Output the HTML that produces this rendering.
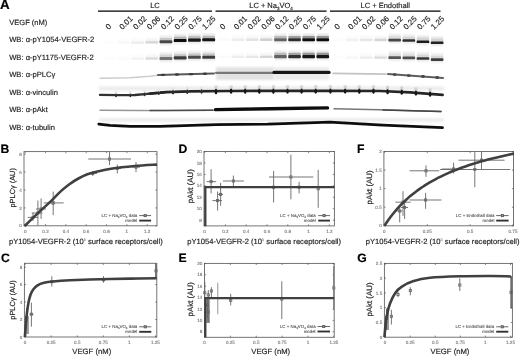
<!DOCTYPE html>
<html><head><meta charset="utf-8"><style>
html,body{margin:0;padding:0;background:#fff;}
svg{display:block;font-family:"Liberation Sans", sans-serif;text-rendering:geometricPrecision;}
</style></head><body>
<svg width="520" height="356" viewBox="0 0 520 356">
<defs><filter id="glob" filterUnits="userSpaceOnUse" x="0" y="0" width="520" height="356"><feGaussianBlur stdDeviation="0.3"/></filter></defs>
<rect width="520" height="356" fill="#fff"/>
<g filter="url(#glob)">
<text x="0.10" y="9.30" font-size="13.4" text-anchor="start" fill="#000" stroke="#000" stroke-width="0.16" font-weight="bold" >A</text>
<text x="0.50" y="152.60" font-size="12.2" text-anchor="start" fill="#000" stroke="#000" stroke-width="0.16" font-weight="bold" >B</text>
<text x="1.00" y="262.10" font-size="12.2" text-anchor="start" fill="#000" stroke="#000" stroke-width="0.16" font-weight="bold" >C</text>
<text x="178.50" y="152.80" font-size="12.2" text-anchor="start" fill="#000" stroke="#000" stroke-width="0.16" font-weight="bold" >D</text>
<text x="178.60" y="261.90" font-size="12.2" text-anchor="start" fill="#000" stroke="#000" stroke-width="0.16" font-weight="bold" >E</text>
<text x="357.00" y="152.80" font-size="12.2" text-anchor="start" fill="#000" stroke="#000" stroke-width="0.16" font-weight="bold" >F</text>
<text x="357.20" y="262.10" font-size="12.2" text-anchor="start" fill="#000" stroke="#000" stroke-width="0.16" font-weight="bold" >G</text>
<line x1="98.0" y1="11.05" x2="212.0" y2="11.05" stroke="#000" stroke-width="1.3"/>
<text x="155.00" y="8.45" font-size="7.5" text-anchor="middle" fill="#222" stroke="#222" stroke-width="0.16" font-weight="normal" >LC</text>
<line x1="215.5" y1="11.05" x2="326.6" y2="11.05" stroke="#000" stroke-width="1.3"/>
<text x="271.05" y="8.45" font-size="7.5" text-anchor="middle" fill="#222" stroke="#222" stroke-width="0.16" font-weight="normal" >LC + Na<tspan font-size="4.5" dy="1.5">3</tspan><tspan dy="-1.5">VO</tspan><tspan font-size="4.5" dy="1.5">4</tspan></text>
<line x1="330.0" y1="11.05" x2="440.5" y2="11.05" stroke="#000" stroke-width="1.3"/>
<text x="385.25" y="8.45" font-size="7.5" text-anchor="middle" fill="#222" stroke="#222" stroke-width="0.16" font-weight="normal" >LC + Endothall</text>
<text x="108.70" y="30.0" font-size="7.8" fill="#1a1a1a" stroke="#1a1a1a" stroke-width="0.15" transform="rotate(-45 108.70 30.0)">0</text>
<text x="122.50" y="30.0" font-size="7.8" fill="#1a1a1a" stroke="#1a1a1a" stroke-width="0.15" transform="rotate(-45 122.50 30.0)">0.01</text>
<text x="136.30" y="30.0" font-size="7.8" fill="#1a1a1a" stroke="#1a1a1a" stroke-width="0.15" transform="rotate(-45 136.30 30.0)">0.02</text>
<text x="150.10" y="30.0" font-size="7.8" fill="#1a1a1a" stroke="#1a1a1a" stroke-width="0.15" transform="rotate(-45 150.10 30.0)">0.06</text>
<text x="163.90" y="30.0" font-size="7.8" fill="#1a1a1a" stroke="#1a1a1a" stroke-width="0.15" transform="rotate(-45 163.90 30.0)">0.12</text>
<text x="177.70" y="30.0" font-size="7.8" fill="#1a1a1a" stroke="#1a1a1a" stroke-width="0.15" transform="rotate(-45 177.70 30.0)">0.25</text>
<text x="191.50" y="30.0" font-size="7.8" fill="#1a1a1a" stroke="#1a1a1a" stroke-width="0.15" transform="rotate(-45 191.50 30.0)">0.75</text>
<text x="205.30" y="30.0" font-size="7.8" fill="#1a1a1a" stroke="#1a1a1a" stroke-width="0.15" transform="rotate(-45 205.30 30.0)">1.25</text>
<text x="223.10" y="30.0" font-size="7.8" fill="#1a1a1a" stroke="#1a1a1a" stroke-width="0.15" transform="rotate(-45 223.10 30.0)">0</text>
<text x="236.90" y="30.0" font-size="7.8" fill="#1a1a1a" stroke="#1a1a1a" stroke-width="0.15" transform="rotate(-45 236.90 30.0)">0.01</text>
<text x="250.70" y="30.0" font-size="7.8" fill="#1a1a1a" stroke="#1a1a1a" stroke-width="0.15" transform="rotate(-45 250.70 30.0)">0.02</text>
<text x="264.50" y="30.0" font-size="7.8" fill="#1a1a1a" stroke="#1a1a1a" stroke-width="0.15" transform="rotate(-45 264.50 30.0)">0.06</text>
<text x="278.30" y="30.0" font-size="7.8" fill="#1a1a1a" stroke="#1a1a1a" stroke-width="0.15" transform="rotate(-45 278.30 30.0)">0.12</text>
<text x="292.10" y="30.0" font-size="7.8" fill="#1a1a1a" stroke="#1a1a1a" stroke-width="0.15" transform="rotate(-45 292.10 30.0)">0.25</text>
<text x="305.90" y="30.0" font-size="7.8" fill="#1a1a1a" stroke="#1a1a1a" stroke-width="0.15" transform="rotate(-45 305.90 30.0)">0.75</text>
<text x="319.70" y="30.0" font-size="7.8" fill="#1a1a1a" stroke="#1a1a1a" stroke-width="0.15" transform="rotate(-45 319.70 30.0)">1.25</text>
<text x="337.50" y="30.0" font-size="7.8" fill="#1a1a1a" stroke="#1a1a1a" stroke-width="0.15" transform="rotate(-45 337.50 30.0)">0</text>
<text x="351.30" y="30.0" font-size="7.8" fill="#1a1a1a" stroke="#1a1a1a" stroke-width="0.15" transform="rotate(-45 351.30 30.0)">0.01</text>
<text x="365.10" y="30.0" font-size="7.8" fill="#1a1a1a" stroke="#1a1a1a" stroke-width="0.15" transform="rotate(-45 365.10 30.0)">0.02</text>
<text x="378.90" y="30.0" font-size="7.8" fill="#1a1a1a" stroke="#1a1a1a" stroke-width="0.15" transform="rotate(-45 378.90 30.0)">0.06</text>
<text x="392.70" y="30.0" font-size="7.8" fill="#1a1a1a" stroke="#1a1a1a" stroke-width="0.15" transform="rotate(-45 392.70 30.0)">0.12</text>
<text x="406.50" y="30.0" font-size="7.8" fill="#1a1a1a" stroke="#1a1a1a" stroke-width="0.15" transform="rotate(-45 406.50 30.0)">0.25</text>
<text x="420.30" y="30.0" font-size="7.8" fill="#1a1a1a" stroke="#1a1a1a" stroke-width="0.15" transform="rotate(-45 420.30 30.0)">0.75</text>
<text x="434.10" y="30.0" font-size="7.8" fill="#1a1a1a" stroke="#1a1a1a" stroke-width="0.15" transform="rotate(-45 434.10 30.0)">1.25</text>
<text x="9.20" y="25.20" font-size="7.55" text-anchor="start" fill="#222" stroke="#222" stroke-width="0.16" font-weight="normal" >VEGF (nM)</text>
<text x="9.20" y="41.90" font-size="7.6" text-anchor="start" fill="#222" stroke="#222" stroke-width="0.16" font-weight="normal" >WB: α-pY1054-VEGFR-2</text>
<text x="9.20" y="59.50" font-size="7.6" text-anchor="start" fill="#222" stroke="#222" stroke-width="0.16" font-weight="normal" >WB: α-pY1175-VEGFR-2</text>
<text x="9.20" y="77.20" font-size="7.6" text-anchor="start" fill="#222" stroke="#222" stroke-width="0.16" font-weight="normal" >WB: α-pPLCγ</text>
<text x="9.20" y="95.00" font-size="7.6" text-anchor="start" fill="#222" stroke="#222" stroke-width="0.16" font-weight="normal" >WB: α-vinculin</text>
<text x="9.20" y="112.00" font-size="7.6" text-anchor="start" fill="#222" stroke="#222" stroke-width="0.16" font-weight="normal" >WB: α-pAkt</text>
<text x="9.20" y="129.50" font-size="7.6" text-anchor="start" fill="#222" stroke="#222" stroke-width="0.16" font-weight="normal" >WB: α-tubulin</text>
<defs><filter id="bl" filterUnits="userSpaceOnUse" x="0" y="0" width="520" height="356"><feGaussianBlur stdDeviation="0.55"/></filter><filter id="blb" filterUnits="userSpaceOnUse" x="0" y="0" width="520" height="356"><feGaussianBlur stdDeviation="0.75"/></filter><filter id="bl2" filterUnits="userSpaceOnUse" x="0" y="0" width="520" height="356"><feGaussianBlur stdDeviation="1.2"/></filter><linearGradient id="hzg" x1="0" y1="0" x2="0" y2="1"><stop offset="0" stop-color="#000" stop-opacity="0"/><stop offset="1" stop-color="#000" stop-opacity="1"/></linearGradient><linearGradient id="hzd" x1="0" y1="0" x2="0" y2="1"><stop offset="0" stop-color="#000" stop-opacity="1"/><stop offset="1" stop-color="#000" stop-opacity="0"/></linearGradient></defs>
<rect x="102.80" y="37.10" width="12.25" height="4.50" fill="url(#hzg)" fill-opacity="0.004" filter="url(#bl)"/>
<rect x="102.50" y="41.40" width="12.85" height="2.40" rx="0.9" fill="#fcfcfc" filter="url(#blb)"/>
<rect x="117.05" y="37.10" width="12.25" height="4.50" fill="url(#hzg)" fill-opacity="0.010" filter="url(#bl)"/>
<rect x="116.75" y="41.40" width="12.85" height="2.40" rx="0.9" fill="#f8f8f8" filter="url(#blb)"/>
<rect x="131.30" y="37.10" width="12.25" height="4.50" fill="url(#hzg)" fill-opacity="0.026" filter="url(#bl)"/>
<rect x="131.00" y="41.40" width="12.85" height="2.40" rx="0.9" fill="#ececec" filter="url(#blb)"/>
<rect x="145.55" y="36.90" width="12.25" height="4.50" fill="url(#hzg)" fill-opacity="0.062" filter="url(#bl)"/>
<rect x="145.25" y="41.20" width="12.85" height="2.40" rx="0.9" fill="#d4d4d4" filter="url(#blb)"/>
<rect x="159.80" y="34.20" width="12.25" height="5.50" fill="url(#hzg)" fill-opacity="0.150" filter="url(#bl)"/>
<rect x="159.80" y="42.75" width="12.25" height="4" fill="url(#hzd)" fill-opacity="0.100" filter="url(#bl)"/>
<rect x="159.70" y="37.95" width="12.45" height="2.6" rx="0.6" fill="#c7c7c7" filter="url(#blb)"/>
<rect x="159.50" y="40.15" width="12.85" height="3.10" rx="0.9" fill="#464646" filter="url(#blb)"/>
<rect x="174.05" y="33.00" width="12.25" height="5.50" fill="url(#hzg)" fill-opacity="0.200" filter="url(#bl)"/>
<rect x="174.05" y="41.55" width="12.25" height="4" fill="url(#hzd)" fill-opacity="0.100" filter="url(#bl)"/>
<rect x="173.95" y="36.75" width="12.45" height="2.6" rx="0.6" fill="#b6b6b6" filter="url(#blb)"/>
<rect x="173.75" y="38.95" width="12.85" height="3.10" rx="0.9" fill="#0c0c0c" filter="url(#blb)"/>
<rect x="188.30" y="32.60" width="12.25" height="5.50" fill="url(#hzg)" fill-opacity="0.200" filter="url(#bl)"/>
<rect x="188.30" y="41.15" width="12.25" height="4" fill="url(#hzd)" fill-opacity="0.100" filter="url(#bl)"/>
<rect x="188.20" y="36.35" width="12.45" height="2.6" rx="0.6" fill="#bababa" filter="url(#blb)"/>
<rect x="188.00" y="38.55" width="12.85" height="3.10" rx="0.9" fill="#1c1c1c" filter="url(#blb)"/>
<rect x="202.55" y="32.30" width="12.25" height="5.50" fill="url(#hzg)" fill-opacity="0.200" filter="url(#bl)"/>
<rect x="202.55" y="40.85" width="12.25" height="4" fill="url(#hzd)" fill-opacity="0.100" filter="url(#bl)"/>
<rect x="202.45" y="36.05" width="12.45" height="2.6" rx="0.6" fill="#b8b8b8" filter="url(#blb)"/>
<rect x="202.25" y="38.25" width="12.85" height="3.10" rx="0.9" fill="#141414" filter="url(#blb)"/>
<rect x="218.00" y="34.20" width="12.10" height="4.50" fill="url(#hzg)" fill-opacity="0.007" filter="url(#bl)"/>
<rect x="217.70" y="38.50" width="12.70" height="2.40" rx="0.9" fill="#fafafa" filter="url(#blb)"/>
<rect x="232.10" y="34.20" width="12.10" height="4.50" fill="url(#hzg)" fill-opacity="0.026" filter="url(#bl)"/>
<rect x="231.80" y="38.50" width="12.70" height="2.40" rx="0.9" fill="#ececec" filter="url(#blb)"/>
<rect x="246.20" y="34.20" width="12.10" height="4.50" fill="url(#hzg)" fill-opacity="0.040" filter="url(#bl)"/>
<rect x="245.90" y="38.50" width="12.70" height="2.40" rx="0.9" fill="#e3e3e3" filter="url(#blb)"/>
<rect x="260.30" y="34.20" width="12.10" height="4.50" fill="url(#hzg)" fill-opacity="0.069" filter="url(#bl)"/>
<rect x="260.00" y="38.50" width="12.70" height="2.40" rx="0.9" fill="#cfcfcf" filter="url(#blb)"/>
<rect x="274.40" y="32.20" width="12.10" height="5.50" fill="url(#hzg)" fill-opacity="0.150" filter="url(#bl)"/>
<rect x="274.40" y="40.75" width="12.10" height="4" fill="url(#hzd)" fill-opacity="0.100" filter="url(#bl)"/>
<rect x="274.30" y="35.95" width="12.30" height="2.6" rx="0.6" fill="#b9b9b9" filter="url(#blb)"/>
<rect x="274.10" y="38.15" width="12.70" height="3.10" rx="0.9" fill="#646464" filter="url(#blb)"/>
<rect x="288.50" y="32.20" width="12.10" height="5.50" fill="url(#hzg)" fill-opacity="0.150" filter="url(#bl)"/>
<rect x="288.50" y="40.75" width="12.10" height="4" fill="url(#hzd)" fill-opacity="0.100" filter="url(#bl)"/>
<rect x="288.40" y="35.95" width="12.30" height="2.6" rx="0.6" fill="#a0a0a0" filter="url(#blb)"/>
<rect x="288.20" y="38.15" width="12.70" height="3.10" rx="0.9" fill="#2d2d2d" filter="url(#blb)"/>
<rect x="302.60" y="32.20" width="12.10" height="5.50" fill="url(#hzg)" fill-opacity="0.200" filter="url(#bl)"/>
<rect x="302.60" y="40.75" width="12.10" height="4" fill="url(#hzd)" fill-opacity="0.100" filter="url(#bl)"/>
<rect x="302.50" y="35.95" width="12.30" height="2.6" rx="0.6" fill="#929292" filter="url(#blb)"/>
<rect x="302.30" y="38.15" width="12.70" height="3.10" rx="0.9" fill="#0e0e0e" filter="url(#blb)"/>
<rect x="316.70" y="32.20" width="12.10" height="5.50" fill="url(#hzg)" fill-opacity="0.200" filter="url(#bl)"/>
<rect x="316.70" y="40.75" width="12.10" height="4" fill="url(#hzd)" fill-opacity="0.100" filter="url(#bl)"/>
<rect x="316.60" y="35.95" width="12.30" height="2.6" rx="0.6" fill="#939393" filter="url(#blb)"/>
<rect x="316.40" y="38.15" width="12.70" height="3.10" rx="0.9" fill="#101010" filter="url(#blb)"/>
<rect x="332.00" y="34.50" width="12.15" height="4.50" fill="url(#hzg)" fill-opacity="0.004" filter="url(#bl)"/>
<rect x="331.70" y="38.80" width="12.75" height="2.40" rx="0.9" fill="#fcfcfc" filter="url(#blb)"/>
<rect x="346.15" y="34.50" width="12.15" height="4.50" fill="url(#hzg)" fill-opacity="0.018" filter="url(#bl)"/>
<rect x="345.85" y="38.80" width="12.75" height="2.40" rx="0.9" fill="#f2f2f2" filter="url(#blb)"/>
<rect x="360.30" y="34.50" width="12.15" height="4.50" fill="url(#hzg)" fill-opacity="0.034" filter="url(#bl)"/>
<rect x="360.00" y="38.80" width="12.75" height="2.40" rx="0.9" fill="#e7e7e7" filter="url(#blb)"/>
<rect x="374.45" y="34.50" width="12.15" height="4.50" fill="url(#hzg)" fill-opacity="0.059" filter="url(#bl)"/>
<rect x="374.15" y="38.80" width="12.75" height="2.40" rx="0.9" fill="#d6d6d6" filter="url(#blb)"/>
<rect x="388.60" y="32.60" width="12.15" height="5.50" fill="url(#hzg)" fill-opacity="0.150" filter="url(#bl)"/>
<rect x="388.60" y="40.90" width="12.15" height="4" fill="url(#hzd)" fill-opacity="0.100" filter="url(#bl)"/>
<rect x="388.50" y="36.60" width="12.35" height="2.6" rx="0.6" fill="#dadada" filter="url(#blb)"/>
<rect x="388.30" y="38.80" width="12.75" height="2.60" rx="0.9" fill="#464646" filter="url(#blb)"/>
<rect x="402.75" y="33.00" width="12.15" height="5.50" fill="url(#hzg)" fill-opacity="0.150" filter="url(#bl)"/>
<rect x="402.75" y="41.30" width="12.15" height="4" fill="url(#hzd)" fill-opacity="0.100" filter="url(#bl)"/>
<rect x="402.65" y="37.00" width="12.35" height="2.6" rx="0.6" fill="#d5d5d5" filter="url(#blb)"/>
<rect x="402.45" y="39.20" width="12.75" height="2.60" rx="0.9" fill="#2d2d2d" filter="url(#blb)"/>
<rect x="416.90" y="34.30" width="12.15" height="5.50" fill="url(#hzg)" fill-opacity="0.200" filter="url(#bl)"/>
<rect x="416.90" y="42.60" width="12.15" height="4" fill="url(#hzd)" fill-opacity="0.100" filter="url(#bl)"/>
<rect x="416.80" y="38.30" width="12.35" height="2.6" rx="0.6" fill="#d2d2d2" filter="url(#blb)"/>
<rect x="416.60" y="40.50" width="12.75" height="2.60" rx="0.9" fill="#1e1e1e" filter="url(#blb)"/>
<rect x="431.05" y="35.30" width="12.15" height="5.50" fill="url(#hzg)" fill-opacity="0.200" filter="url(#bl)"/>
<rect x="431.05" y="43.60" width="12.15" height="4" fill="url(#hzd)" fill-opacity="0.100" filter="url(#bl)"/>
<rect x="430.95" y="39.30" width="12.35" height="2.6" rx="0.6" fill="#d2d2d2" filter="url(#blb)"/>
<rect x="430.75" y="41.50" width="12.75" height="2.60" rx="0.9" fill="#202020" filter="url(#blb)"/>
<rect x="102.80" y="53.10" width="12.25" height="4.50" fill="url(#hzg)" fill-opacity="0.004" filter="url(#bl)"/>
<rect x="102.50" y="57.40" width="12.85" height="2.40" rx="0.9" fill="#fcfcfc" filter="url(#blb)"/>
<rect x="117.05" y="53.10" width="12.25" height="4.50" fill="url(#hzg)" fill-opacity="0.007" filter="url(#bl)"/>
<rect x="116.75" y="57.40" width="12.85" height="2.40" rx="0.9" fill="#fafafa" filter="url(#blb)"/>
<rect x="131.30" y="53.10" width="12.25" height="4.50" fill="url(#hzg)" fill-opacity="0.018" filter="url(#bl)"/>
<rect x="131.00" y="57.40" width="12.85" height="2.40" rx="0.9" fill="#f2f2f2" filter="url(#blb)"/>
<rect x="145.55" y="53.00" width="12.25" height="4.50" fill="url(#hzg)" fill-opacity="0.048" filter="url(#bl)"/>
<rect x="145.25" y="57.30" width="12.85" height="2.40" rx="0.9" fill="#dddddd" filter="url(#blb)"/>
<rect x="159.80" y="51.00" width="12.25" height="5.50" fill="url(#hzg)" fill-opacity="0.150" filter="url(#bl)"/>
<rect x="159.80" y="59.55" width="12.25" height="4" fill="url(#hzd)" fill-opacity="0.100" filter="url(#bl)"/>
<rect x="159.70" y="54.75" width="12.45" height="2.6" rx="0.6" fill="#d5d5d5" filter="url(#blb)"/>
<rect x="159.50" y="56.95" width="12.85" height="3.10" rx="0.9" fill="#737373" filter="url(#blb)"/>
<rect x="174.05" y="50.40" width="12.25" height="5.50" fill="url(#hzg)" fill-opacity="0.150" filter="url(#bl)"/>
<rect x="174.05" y="58.95" width="12.25" height="4" fill="url(#hzd)" fill-opacity="0.100" filter="url(#bl)"/>
<rect x="173.95" y="54.15" width="12.45" height="2.6" rx="0.6" fill="#c5c5c5" filter="url(#blb)"/>
<rect x="173.75" y="56.35" width="12.85" height="3.10" rx="0.9" fill="#3e3e3e" filter="url(#blb)"/>
<rect x="188.30" y="49.80" width="12.25" height="5.50" fill="url(#hzg)" fill-opacity="0.150" filter="url(#bl)"/>
<rect x="188.30" y="58.35" width="12.25" height="4" fill="url(#hzd)" fill-opacity="0.100" filter="url(#bl)"/>
<rect x="188.20" y="53.55" width="12.45" height="2.6" rx="0.6" fill="#c9c9c9" filter="url(#blb)"/>
<rect x="188.00" y="55.75" width="12.85" height="3.10" rx="0.9" fill="#4e4e4e" filter="url(#blb)"/>
<rect x="202.55" y="49.80" width="12.25" height="5.50" fill="url(#hzg)" fill-opacity="0.150" filter="url(#bl)"/>
<rect x="202.55" y="58.35" width="12.25" height="4" fill="url(#hzd)" fill-opacity="0.100" filter="url(#bl)"/>
<rect x="202.45" y="53.55" width="12.45" height="2.6" rx="0.6" fill="#c4c4c4" filter="url(#blb)"/>
<rect x="202.25" y="55.75" width="12.85" height="3.10" rx="0.9" fill="#3c3c3c" filter="url(#blb)"/>
<rect x="218.00" y="51.40" width="12.10" height="4.50" fill="url(#hzg)" fill-opacity="0.007" filter="url(#bl)"/>
<rect x="217.70" y="55.70" width="12.70" height="2.40" rx="0.9" fill="#fafafa" filter="url(#blb)"/>
<rect x="232.10" y="51.40" width="12.10" height="4.50" fill="url(#hzg)" fill-opacity="0.023" filter="url(#bl)"/>
<rect x="231.80" y="55.70" width="12.70" height="2.40" rx="0.9" fill="#eeeeee" filter="url(#blb)"/>
<rect x="246.20" y="51.40" width="12.10" height="4.50" fill="url(#hzg)" fill-opacity="0.034" filter="url(#bl)"/>
<rect x="245.90" y="55.70" width="12.70" height="2.40" rx="0.9" fill="#e7e7e7" filter="url(#blb)"/>
<rect x="260.30" y="51.40" width="12.10" height="4.50" fill="url(#hzg)" fill-opacity="0.059" filter="url(#bl)"/>
<rect x="260.00" y="55.70" width="12.70" height="2.40" rx="0.9" fill="#d6d6d6" filter="url(#blb)"/>
<rect x="274.40" y="49.10" width="12.10" height="5.50" fill="url(#hzg)" fill-opacity="0.150" filter="url(#bl)"/>
<rect x="274.40" y="57.65" width="12.10" height="4" fill="url(#hzd)" fill-opacity="0.100" filter="url(#bl)"/>
<rect x="274.30" y="52.85" width="12.30" height="2.6" rx="0.6" fill="#b9b9b9" filter="url(#blb)"/>
<rect x="274.10" y="55.05" width="12.70" height="3.10" rx="0.9" fill="#646464" filter="url(#blb)"/>
<rect x="288.50" y="49.10" width="12.10" height="5.50" fill="url(#hzg)" fill-opacity="0.150" filter="url(#bl)"/>
<rect x="288.50" y="57.65" width="12.10" height="4" fill="url(#hzd)" fill-opacity="0.100" filter="url(#bl)"/>
<rect x="288.40" y="52.85" width="12.30" height="2.6" rx="0.6" fill="#a2a2a2" filter="url(#blb)"/>
<rect x="288.20" y="55.05" width="12.70" height="3.10" rx="0.9" fill="#323232" filter="url(#blb)"/>
<rect x="302.60" y="49.10" width="12.10" height="5.50" fill="url(#hzg)" fill-opacity="0.200" filter="url(#bl)"/>
<rect x="302.60" y="57.65" width="12.10" height="4" fill="url(#hzd)" fill-opacity="0.100" filter="url(#bl)"/>
<rect x="302.50" y="52.85" width="12.30" height="2.6" rx="0.6" fill="#969696" filter="url(#blb)"/>
<rect x="302.30" y="55.05" width="12.70" height="3.10" rx="0.9" fill="#161616" filter="url(#blb)"/>
<rect x="316.70" y="49.10" width="12.10" height="5.50" fill="url(#hzg)" fill-opacity="0.200" filter="url(#bl)"/>
<rect x="316.70" y="57.65" width="12.10" height="4" fill="url(#hzd)" fill-opacity="0.100" filter="url(#bl)"/>
<rect x="316.60" y="52.85" width="12.30" height="2.6" rx="0.6" fill="#969696" filter="url(#blb)"/>
<rect x="316.40" y="55.05" width="12.70" height="3.10" rx="0.9" fill="#161616" filter="url(#blb)"/>
<rect x="332.00" y="52.10" width="12.15" height="4.50" fill="url(#hzg)" fill-opacity="0.004" filter="url(#bl)"/>
<rect x="331.70" y="56.40" width="12.75" height="2.40" rx="0.9" fill="#fcfcfc" filter="url(#blb)"/>
<rect x="346.15" y="52.10" width="12.15" height="4.50" fill="url(#hzg)" fill-opacity="0.012" filter="url(#bl)"/>
<rect x="345.85" y="56.40" width="12.75" height="2.40" rx="0.9" fill="#f6f6f6" filter="url(#blb)"/>
<rect x="360.30" y="52.10" width="12.15" height="4.50" fill="url(#hzg)" fill-opacity="0.027" filter="url(#bl)"/>
<rect x="360.00" y="56.40" width="12.75" height="2.40" rx="0.9" fill="#ececec" filter="url(#blb)"/>
<rect x="374.45" y="52.10" width="12.15" height="4.50" fill="url(#hzg)" fill-opacity="0.051" filter="url(#bl)"/>
<rect x="374.15" y="56.40" width="12.75" height="2.40" rx="0.9" fill="#dbdbdb" filter="url(#blb)"/>
<rect x="388.60" y="50.10" width="12.15" height="5.50" fill="url(#hzg)" fill-opacity="0.150" filter="url(#bl)"/>
<rect x="388.60" y="58.40" width="12.15" height="4" fill="url(#hzd)" fill-opacity="0.100" filter="url(#bl)"/>
<rect x="388.50" y="54.10" width="12.35" height="2.6" rx="0.6" fill="#dddddd" filter="url(#blb)"/>
<rect x="388.30" y="56.30" width="12.75" height="2.60" rx="0.9" fill="#555555" filter="url(#blb)"/>
<rect x="402.75" y="50.40" width="12.15" height="5.50" fill="url(#hzg)" fill-opacity="0.150" filter="url(#bl)"/>
<rect x="402.75" y="58.70" width="12.15" height="4" fill="url(#hzd)" fill-opacity="0.100" filter="url(#bl)"/>
<rect x="402.65" y="54.40" width="12.35" height="2.6" rx="0.6" fill="#dcdcdc" filter="url(#blb)"/>
<rect x="402.45" y="56.60" width="12.75" height="2.60" rx="0.9" fill="#505050" filter="url(#blb)"/>
<rect x="416.90" y="51.00" width="12.15" height="5.50" fill="url(#hzg)" fill-opacity="0.150" filter="url(#bl)"/>
<rect x="416.90" y="59.30" width="12.15" height="4" fill="url(#hzd)" fill-opacity="0.100" filter="url(#bl)"/>
<rect x="416.80" y="55.00" width="12.35" height="2.6" rx="0.6" fill="#d7d7d7" filter="url(#blb)"/>
<rect x="416.60" y="57.20" width="12.75" height="2.60" rx="0.9" fill="#373737" filter="url(#blb)"/>
<rect x="431.05" y="52.10" width="12.15" height="5.50" fill="url(#hzg)" fill-opacity="0.150" filter="url(#bl)"/>
<rect x="431.05" y="60.40" width="12.15" height="4" fill="url(#hzd)" fill-opacity="0.100" filter="url(#bl)"/>
<rect x="430.95" y="56.10" width="12.35" height="2.6" rx="0.6" fill="#d8d8d8" filter="url(#blb)"/>
<rect x="430.75" y="58.30" width="12.75" height="2.60" rx="0.9" fill="#3e3e3e" filter="url(#blb)"/>
<rect x="216" y="67" width="58" height="13" fill="#e2e2e2" filter="url(#bl2)"/>
<rect x="274" y="67" width="55" height="13" fill="#ececec" filter="url(#bl2)"/>
<path d="M100.00,78.20 L130.00,77.80 L150.00,76.20 L160.00,75.00" fill="none" stroke="#cdcdcd" stroke-width="1.6" stroke-linecap="round" stroke-linejoin="round" filter="url(#bl)" />
<path d="M158.00,75.00 L185.00,74.20 L214.00,73.40" fill="none" stroke="#5a5a5a" stroke-width="2.0" stroke-linecap="round" stroke-linejoin="round" filter="url(#bl)" />
<ellipse cx="163" cy="74.92" rx="2.2" ry="1.2" fill="#3c3c3c" filter="url(#bl)"/>
<ellipse cx="177" cy="74.52" rx="2.2" ry="1.2" fill="#3c3c3c" filter="url(#bl)"/>
<ellipse cx="191" cy="74.13" rx="2.2" ry="1.2" fill="#3c3c3c" filter="url(#bl)"/>
<ellipse cx="205" cy="73.74" rx="2.2" ry="1.2" fill="#3c3c3c" filter="url(#bl)"/>
<path d="M216.00,72.80 L273.00,72.80" fill="none" stroke="#787878" stroke-width="2.2" stroke-linecap="round" stroke-linejoin="round" filter="url(#bl)" />
<path d="M274.00,72.40 L329.00,72.40" fill="none" stroke="#191919" stroke-width="3.3" stroke-linecap="round" stroke-linejoin="round" filter="url(#bl)" />
<path d="M333.00,73.40 L386.00,74.10" fill="none" stroke="#c3c3c3" stroke-width="1.6" stroke-linecap="round" stroke-linejoin="round" filter="url(#bl)" />
<path d="M388.00,74.10 L443.00,77.90" fill="none" stroke="#5f5f5f" stroke-width="2.0" stroke-linecap="round" stroke-linejoin="round" filter="url(#bl)" />
<ellipse cx="394.70" cy="74.56" rx="2.0" ry="1.4" fill="#464646" filter="url(#bl)"/>
<ellipse cx="408.80" cy="75.54" rx="2.0" ry="1.4" fill="#464646" filter="url(#bl)"/>
<ellipse cx="423.00" cy="76.52" rx="2.0" ry="1.4" fill="#464646" filter="url(#bl)"/>
<ellipse cx="437.10" cy="77.49" rx="2.0" ry="1.4" fill="#464646" filter="url(#bl)"/>
<rect x="99" y="86.5" width="345" height="4" fill="#ececec" filter="url(#bl2)"/>
<path d="M100.00,94.90 L120.00,95.20 L135.00,95.00 L150.00,93.60 L166.00,92.20" fill="none" stroke="#323232" stroke-width="2.3" stroke-linecap="round" stroke-linejoin="round" filter="url(#bl)" />
<path d="M150.00,93.60 L166.00,92.20 L190.00,91.40 L230.00,91.00 L260.00,90.90 L330.00,90.80 L380.00,91.00 L410.00,92.40 L442.60,94.80" fill="none" stroke="#282828" stroke-width="2.7" stroke-linecap="round" stroke-linejoin="round" filter="url(#bl)" />
<rect x="115.00" y="91.29" width="2.10" height="3.15" fill="#e4e4e4" filter="url(#blb)"/>
<ellipse cx="116.05" cy="95.44" rx="0.98" ry="1.89" fill="#2d2d2d" filter="url(#bl)"/>
<rect x="129.25" y="91.21" width="2.10" height="3.15" fill="#e4e4e4" filter="url(#blb)"/>
<ellipse cx="130.30" cy="95.36" rx="0.98" ry="1.89" fill="#2d2d2d" filter="url(#bl)"/>
<rect x="143.50" y="90.26" width="2.10" height="3.15" fill="#e4e4e4" filter="url(#blb)"/>
<ellipse cx="144.55" cy="94.41" rx="0.98" ry="1.89" fill="#2d2d2d" filter="url(#bl)"/>
<rect x="157.75" y="88.98" width="2.10" height="3.15" fill="#e4e4e4" filter="url(#blb)"/>
<ellipse cx="158.80" cy="93.13" rx="0.98" ry="1.89" fill="#2d2d2d" filter="url(#bl)"/>
<rect x="171.78" y="87.29" width="2.55" height="3.82" fill="#e4e4e4" filter="url(#blb)"/>
<ellipse cx="173.05" cy="92.27" rx="1.19" ry="2.29" fill="#2d2d2d" filter="url(#bl)"/>
<rect x="186.03" y="86.82" width="2.55" height="3.82" fill="#e4e4e4" filter="url(#blb)"/>
<ellipse cx="187.30" cy="91.79" rx="1.19" ry="2.29" fill="#2d2d2d" filter="url(#bl)"/>
<rect x="200.28" y="86.61" width="2.55" height="3.82" fill="#e4e4e4" filter="url(#blb)"/>
<ellipse cx="201.55" cy="91.58" rx="1.19" ry="2.29" fill="#2d2d2d" filter="url(#bl)"/>
<rect x="214.50" y="85.64" width="3.00" height="4.50" fill="#d2d2d2" filter="url(#blb)"/>
<ellipse cx="216.00" cy="91.44" rx="1.40" ry="2.70" fill="#191919" filter="url(#bl)"/>
<rect x="229.60" y="85.50" width="3.00" height="4.50" fill="#d2d2d2" filter="url(#blb)"/>
<ellipse cx="231.10" cy="91.30" rx="1.40" ry="2.70" fill="#191919" filter="url(#bl)"/>
<rect x="243.70" y="85.45" width="3.00" height="4.50" fill="#d2d2d2" filter="url(#blb)"/>
<ellipse cx="245.20" cy="91.25" rx="1.40" ry="2.70" fill="#191919" filter="url(#bl)"/>
<rect x="257.80" y="85.40" width="3.00" height="4.50" fill="#d2d2d2" filter="url(#blb)"/>
<ellipse cx="259.30" cy="91.20" rx="1.40" ry="2.70" fill="#191919" filter="url(#bl)"/>
<rect x="271.90" y="85.38" width="3.00" height="4.50" fill="#d2d2d2" filter="url(#blb)"/>
<ellipse cx="273.40" cy="91.18" rx="1.40" ry="2.70" fill="#191919" filter="url(#bl)"/>
<rect x="286.00" y="85.36" width="3.00" height="4.50" fill="#d2d2d2" filter="url(#blb)"/>
<ellipse cx="287.50" cy="91.16" rx="1.40" ry="2.70" fill="#191919" filter="url(#bl)"/>
<rect x="300.10" y="85.34" width="3.00" height="4.50" fill="#d2d2d2" filter="url(#blb)"/>
<ellipse cx="301.60" cy="91.14" rx="1.40" ry="2.70" fill="#191919" filter="url(#bl)"/>
<rect x="314.20" y="85.32" width="3.00" height="4.50" fill="#d2d2d2" filter="url(#blb)"/>
<ellipse cx="315.70" cy="91.12" rx="1.40" ry="2.70" fill="#191919" filter="url(#bl)"/>
<rect x="328.90" y="85.30" width="3.00" height="4.50" fill="#d2d2d2" filter="url(#blb)"/>
<ellipse cx="330.40" cy="91.10" rx="1.40" ry="2.70" fill="#191919" filter="url(#bl)"/>
<rect x="343.65" y="85.36" width="3.00" height="4.50" fill="#d2d2d2" filter="url(#blb)"/>
<ellipse cx="345.15" cy="91.16" rx="1.40" ry="2.70" fill="#191919" filter="url(#bl)"/>
<rect x="357.80" y="85.42" width="3.00" height="4.50" fill="#d2d2d2" filter="url(#blb)"/>
<ellipse cx="359.30" cy="91.22" rx="1.40" ry="2.70" fill="#191919" filter="url(#bl)"/>
<rect x="371.95" y="85.47" width="3.00" height="4.50" fill="#d2d2d2" filter="url(#blb)"/>
<ellipse cx="373.45" cy="91.27" rx="1.40" ry="2.70" fill="#191919" filter="url(#bl)"/>
<rect x="386.10" y="85.85" width="3.00" height="4.50" fill="#d2d2d2" filter="url(#blb)"/>
<ellipse cx="387.60" cy="91.65" rx="1.40" ry="2.70" fill="#191919" filter="url(#bl)"/>
<rect x="400.25" y="86.52" width="3.00" height="4.50" fill="#d2d2d2" filter="url(#blb)"/>
<ellipse cx="401.75" cy="92.31" rx="1.40" ry="2.70" fill="#191919" filter="url(#bl)"/>
<rect x="414.40" y="87.33" width="3.00" height="4.50" fill="#d2d2d2" filter="url(#blb)"/>
<ellipse cx="415.90" cy="93.13" rx="1.40" ry="2.70" fill="#191919" filter="url(#bl)"/>
<rect x="428.55" y="88.38" width="3.00" height="4.50" fill="#d2d2d2" filter="url(#blb)"/>
<ellipse cx="430.05" cy="94.18" rx="1.40" ry="2.70" fill="#191919" filter="url(#bl)"/>
<path d="M100.00,110.30 L140.00,110.50 L166.00,110.60 L213.00,110.20" fill="none" stroke="#969696" stroke-width="1.4" stroke-linecap="round" stroke-linejoin="round" filter="url(#bl)" />
<path d="M150.00,110.50 L213.00,110.20" fill="none" stroke="#4b4b4b" stroke-width="1.6" stroke-linecap="round" stroke-linejoin="round" filter="url(#bl)" />
<path d="M215.50,109.60 L270.00,108.70 L327.50,107.90" fill="none" stroke="#0c0c0c" stroke-width="3.4" stroke-linecap="round" stroke-linejoin="round" filter="url(#bl)" />
<path d="M334.00,108.80 L380.00,109.80 L441.00,111.50" fill="none" stroke="#787878" stroke-width="1.5" stroke-linecap="round" stroke-linejoin="round" filter="url(#bl)" />
<path d="M383.00,110.00 L441.00,111.50" fill="none" stroke="#464646" stroke-width="1.6" stroke-linecap="round" stroke-linejoin="round" filter="url(#bl)" />
<rect x="99" y="118" width="345" height="4" fill="#eeeeee" filter="url(#bl2)"/>
<path d="M98.80,124.20 L110.00,125.40 L130.00,126.40 L160.00,126.30 L216.00,124.70 L267.70,124.20 L330.00,122.10 L382.70,125.20 L442.50,127.60" fill="none" stroke="#0f0f0f" stroke-width="2.8" stroke-linecap="round" stroke-linejoin="round" filter="url(#bl)" />
<rect x="24.0" y="151.6" width="133.0" height="74.20000000000002" fill="none" stroke="#666" stroke-width="0.9"/>
<line x1="25.20" y1="225.8" x2="25.20" y2="224.20000000000002" stroke="#555" stroke-width="0.7"/>
<line x1="25.20" y1="151.6" x2="25.20" y2="153.2" stroke="#555" stroke-width="0.7"/>
<text x="25.20" y="232.70" font-size="4.6" text-anchor="middle" fill="#777" stroke="#777" stroke-width="0.1" font-weight="normal" >0</text>
<line x1="45.54" y1="225.8" x2="45.54" y2="224.20000000000002" stroke="#555" stroke-width="0.7"/>
<line x1="45.54" y1="151.6" x2="45.54" y2="153.2" stroke="#555" stroke-width="0.7"/>
<text x="45.54" y="232.70" font-size="4.6" text-anchor="middle" fill="#777" stroke="#777" stroke-width="0.1" font-weight="normal" >0.2</text>
<line x1="65.88" y1="225.8" x2="65.88" y2="224.20000000000002" stroke="#555" stroke-width="0.7"/>
<line x1="65.88" y1="151.6" x2="65.88" y2="153.2" stroke="#555" stroke-width="0.7"/>
<text x="65.88" y="232.70" font-size="4.6" text-anchor="middle" fill="#777" stroke="#777" stroke-width="0.1" font-weight="normal" >0.4</text>
<line x1="86.22" y1="225.8" x2="86.22" y2="224.20000000000002" stroke="#555" stroke-width="0.7"/>
<line x1="86.22" y1="151.6" x2="86.22" y2="153.2" stroke="#555" stroke-width="0.7"/>
<text x="86.22" y="232.70" font-size="4.6" text-anchor="middle" fill="#777" stroke="#777" stroke-width="0.1" font-weight="normal" >0.6</text>
<line x1="106.56" y1="225.8" x2="106.56" y2="224.20000000000002" stroke="#555" stroke-width="0.7"/>
<line x1="106.56" y1="151.6" x2="106.56" y2="153.2" stroke="#555" stroke-width="0.7"/>
<text x="106.56" y="232.70" font-size="4.6" text-anchor="middle" fill="#777" stroke="#777" stroke-width="0.1" font-weight="normal" >0.8</text>
<line x1="126.90" y1="225.8" x2="126.90" y2="224.20000000000002" stroke="#555" stroke-width="0.7"/>
<line x1="126.90" y1="151.6" x2="126.90" y2="153.2" stroke="#555" stroke-width="0.7"/>
<text x="126.90" y="232.70" font-size="4.6" text-anchor="middle" fill="#777" stroke="#777" stroke-width="0.1" font-weight="normal" >1</text>
<line x1="147.24" y1="225.8" x2="147.24" y2="224.20000000000002" stroke="#555" stroke-width="0.7"/>
<line x1="147.24" y1="151.6" x2="147.24" y2="153.2" stroke="#555" stroke-width="0.7"/>
<text x="147.24" y="232.70" font-size="4.6" text-anchor="middle" fill="#777" stroke="#777" stroke-width="0.1" font-weight="normal" >1.2</text>
<line x1="24.0" y1="225.80" x2="25.6" y2="225.80" stroke="#555" stroke-width="0.7"/>
<line x1="157.0" y1="225.80" x2="155.4" y2="225.80" stroke="#555" stroke-width="0.7"/>
<text x="21.80" y="227.40" font-size="4.6" text-anchor="end" fill="#777" stroke="#777" stroke-width="0.1" font-weight="normal" >0</text>
<line x1="24.0" y1="207.90" x2="25.6" y2="207.90" stroke="#555" stroke-width="0.7"/>
<line x1="157.0" y1="207.90" x2="155.4" y2="207.90" stroke="#555" stroke-width="0.7"/>
<text x="21.80" y="209.50" font-size="4.6" text-anchor="end" fill="#777" stroke="#777" stroke-width="0.1" font-weight="normal" >2</text>
<line x1="24.0" y1="190.00" x2="25.6" y2="190.00" stroke="#555" stroke-width="0.7"/>
<line x1="157.0" y1="190.00" x2="155.4" y2="190.00" stroke="#555" stroke-width="0.7"/>
<text x="21.80" y="191.60" font-size="4.6" text-anchor="end" fill="#777" stroke="#777" stroke-width="0.1" font-weight="normal" >4</text>
<line x1="24.0" y1="172.10" x2="25.6" y2="172.10" stroke="#555" stroke-width="0.7"/>
<line x1="157.0" y1="172.10" x2="155.4" y2="172.10" stroke="#555" stroke-width="0.7"/>
<text x="21.80" y="173.70" font-size="4.6" text-anchor="end" fill="#777" stroke="#777" stroke-width="0.1" font-weight="normal" >6</text>
<line x1="24.0" y1="154.20" x2="25.6" y2="154.20" stroke="#555" stroke-width="0.7"/>
<line x1="157.0" y1="154.20" x2="155.4" y2="154.20" stroke="#555" stroke-width="0.7"/>
<text x="21.80" y="155.80" font-size="4.6" text-anchor="end" fill="#777" stroke="#777" stroke-width="0.1" font-weight="normal" >8</text>
<text x="15.00" y="187.80" font-size="7.4" text-anchor="middle" fill="#222" stroke="#222" stroke-width="0.15" transform="rotate(-90 15.00 187.80)">pPLCγ (AU)</text>
<text x="9.00" y="244.30" font-size="7.6" text-anchor="start" fill="#222" stroke="#222" stroke-width="0.16" font-weight="normal" >pY1054-VEGFR-2 (10<tspan font-size="4.0" dy="-3" fill="#666" stroke="none">5</tspan><tspan dy="3"> surface receptors/cell)</tspan></text>
<rect x="24.4" y="263.3" width="132.4" height="73.69999999999999" fill="none" stroke="#666" stroke-width="0.9"/>
<line x1="25.10" y1="337.0" x2="25.10" y2="335.4" stroke="#555" stroke-width="0.7"/>
<line x1="25.10" y1="263.3" x2="25.10" y2="264.90000000000003" stroke="#555" stroke-width="0.7"/>
<text x="25.10" y="343.90" font-size="4.6" text-anchor="middle" fill="#777" stroke="#777" stroke-width="0.1" font-weight="normal" >0</text>
<line x1="51.17" y1="337.0" x2="51.17" y2="335.4" stroke="#555" stroke-width="0.7"/>
<line x1="51.17" y1="263.3" x2="51.17" y2="264.90000000000003" stroke="#555" stroke-width="0.7"/>
<text x="51.17" y="343.90" font-size="4.6" text-anchor="middle" fill="#777" stroke="#777" stroke-width="0.1" font-weight="normal" >0.25</text>
<line x1="77.25" y1="337.0" x2="77.25" y2="335.4" stroke="#555" stroke-width="0.7"/>
<line x1="77.25" y1="263.3" x2="77.25" y2="264.90000000000003" stroke="#555" stroke-width="0.7"/>
<text x="77.25" y="343.90" font-size="4.6" text-anchor="middle" fill="#777" stroke="#777" stroke-width="0.1" font-weight="normal" >0.5</text>
<line x1="103.32" y1="337.0" x2="103.32" y2="335.4" stroke="#555" stroke-width="0.7"/>
<line x1="103.32" y1="263.3" x2="103.32" y2="264.90000000000003" stroke="#555" stroke-width="0.7"/>
<text x="103.32" y="343.90" font-size="4.6" text-anchor="middle" fill="#777" stroke="#777" stroke-width="0.1" font-weight="normal" >0.75</text>
<line x1="129.40" y1="337.0" x2="129.40" y2="335.4" stroke="#555" stroke-width="0.7"/>
<line x1="129.40" y1="263.3" x2="129.40" y2="264.90000000000003" stroke="#555" stroke-width="0.7"/>
<text x="129.40" y="343.90" font-size="4.6" text-anchor="middle" fill="#777" stroke="#777" stroke-width="0.1" font-weight="normal" >1</text>
<line x1="155.47" y1="337.0" x2="155.47" y2="335.4" stroke="#555" stroke-width="0.7"/>
<line x1="155.47" y1="263.3" x2="155.47" y2="264.90000000000003" stroke="#555" stroke-width="0.7"/>
<text x="155.47" y="343.90" font-size="4.6" text-anchor="middle" fill="#777" stroke="#777" stroke-width="0.1" font-weight="normal" >1.25</text>
<line x1="24.4" y1="337.00" x2="26.0" y2="337.00" stroke="#555" stroke-width="0.7"/>
<line x1="156.8" y1="337.00" x2="155.20000000000002" y2="337.00" stroke="#555" stroke-width="0.7"/>
<text x="22.20" y="338.60" font-size="4.6" text-anchor="end" fill="#777" stroke="#777" stroke-width="0.1" font-weight="normal" >0</text>
<line x1="24.4" y1="319.54" x2="26.0" y2="319.54" stroke="#555" stroke-width="0.7"/>
<line x1="156.8" y1="319.54" x2="155.20000000000002" y2="319.54" stroke="#555" stroke-width="0.7"/>
<text x="22.20" y="321.14" font-size="4.6" text-anchor="end" fill="#777" stroke="#777" stroke-width="0.1" font-weight="normal" >2</text>
<line x1="24.4" y1="302.08" x2="26.0" y2="302.08" stroke="#555" stroke-width="0.7"/>
<line x1="156.8" y1="302.08" x2="155.20000000000002" y2="302.08" stroke="#555" stroke-width="0.7"/>
<text x="22.20" y="303.68" font-size="4.6" text-anchor="end" fill="#777" stroke="#777" stroke-width="0.1" font-weight="normal" >4</text>
<line x1="24.4" y1="284.62" x2="26.0" y2="284.62" stroke="#555" stroke-width="0.7"/>
<line x1="156.8" y1="284.62" x2="155.20000000000002" y2="284.62" stroke="#555" stroke-width="0.7"/>
<text x="22.20" y="286.22" font-size="4.6" text-anchor="end" fill="#777" stroke="#777" stroke-width="0.1" font-weight="normal" >6</text>
<line x1="24.4" y1="267.16" x2="26.0" y2="267.16" stroke="#555" stroke-width="0.7"/>
<line x1="156.8" y1="267.16" x2="155.20000000000002" y2="267.16" stroke="#555" stroke-width="0.7"/>
<text x="22.20" y="268.76" font-size="4.6" text-anchor="end" fill="#777" stroke="#777" stroke-width="0.1" font-weight="normal" >8</text>
<text x="15.40" y="300.00" font-size="7.4" text-anchor="middle" fill="#222" stroke="#222" stroke-width="0.15" transform="rotate(-90 15.40 300.00)">pPLCγ (AU)</text>
<text x="91.80" y="353.90" font-size="7.7" text-anchor="middle" fill="#222" stroke="#222" stroke-width="0.16" font-weight="normal" >VEGF (nM)</text>
<rect x="204.0" y="151.5" width="130.39999999999998" height="74.4" fill="none" stroke="#666" stroke-width="0.9"/>
<line x1="204.60" y1="225.9" x2="204.60" y2="224.3" stroke="#555" stroke-width="0.7"/>
<line x1="204.60" y1="151.5" x2="204.60" y2="153.1" stroke="#555" stroke-width="0.7"/>
<text x="204.60" y="232.80" font-size="4.6" text-anchor="middle" fill="#777" stroke="#777" stroke-width="0.1" font-weight="normal" >0</text>
<line x1="225.40" y1="225.9" x2="225.40" y2="224.3" stroke="#555" stroke-width="0.7"/>
<line x1="225.40" y1="151.5" x2="225.40" y2="153.1" stroke="#555" stroke-width="0.7"/>
<text x="225.40" y="232.80" font-size="4.6" text-anchor="middle" fill="#777" stroke="#777" stroke-width="0.1" font-weight="normal" >0.2</text>
<line x1="246.20" y1="225.9" x2="246.20" y2="224.3" stroke="#555" stroke-width="0.7"/>
<line x1="246.20" y1="151.5" x2="246.20" y2="153.1" stroke="#555" stroke-width="0.7"/>
<text x="246.20" y="232.80" font-size="4.6" text-anchor="middle" fill="#777" stroke="#777" stroke-width="0.1" font-weight="normal" >0.4</text>
<line x1="267.00" y1="225.9" x2="267.00" y2="224.3" stroke="#555" stroke-width="0.7"/>
<line x1="267.00" y1="151.5" x2="267.00" y2="153.1" stroke="#555" stroke-width="0.7"/>
<text x="267.00" y="232.80" font-size="4.6" text-anchor="middle" fill="#777" stroke="#777" stroke-width="0.1" font-weight="normal" >0.6</text>
<line x1="287.80" y1="225.9" x2="287.80" y2="224.3" stroke="#555" stroke-width="0.7"/>
<line x1="287.80" y1="151.5" x2="287.80" y2="153.1" stroke="#555" stroke-width="0.7"/>
<text x="287.80" y="232.80" font-size="4.6" text-anchor="middle" fill="#777" stroke="#777" stroke-width="0.1" font-weight="normal" >0.8</text>
<line x1="308.60" y1="225.9" x2="308.60" y2="224.3" stroke="#555" stroke-width="0.7"/>
<line x1="308.60" y1="151.5" x2="308.60" y2="153.1" stroke="#555" stroke-width="0.7"/>
<text x="308.60" y="232.80" font-size="4.6" text-anchor="middle" fill="#777" stroke="#777" stroke-width="0.1" font-weight="normal" >1</text>
<line x1="329.40" y1="225.9" x2="329.40" y2="224.3" stroke="#555" stroke-width="0.7"/>
<line x1="329.40" y1="151.5" x2="329.40" y2="153.1" stroke="#555" stroke-width="0.7"/>
<text x="329.40" y="232.80" font-size="4.6" text-anchor="middle" fill="#777" stroke="#777" stroke-width="0.1" font-weight="normal" >1.2</text>
<line x1="204.0" y1="220.14" x2="205.6" y2="220.14" stroke="#555" stroke-width="0.7"/>
<line x1="334.4" y1="220.14" x2="332.79999999999995" y2="220.14" stroke="#555" stroke-width="0.7"/>
<text x="201.80" y="221.74" font-size="4.6" text-anchor="end" fill="#777" stroke="#777" stroke-width="0.1" font-weight="normal" >8</text>
<line x1="204.0" y1="208.70" x2="205.6" y2="208.70" stroke="#555" stroke-width="0.7"/>
<line x1="334.4" y1="208.70" x2="332.79999999999995" y2="208.70" stroke="#555" stroke-width="0.7"/>
<text x="201.80" y="210.30" font-size="4.6" text-anchor="end" fill="#777" stroke="#777" stroke-width="0.1" font-weight="normal" >10</text>
<line x1="204.0" y1="197.26" x2="205.6" y2="197.26" stroke="#555" stroke-width="0.7"/>
<line x1="334.4" y1="197.26" x2="332.79999999999995" y2="197.26" stroke="#555" stroke-width="0.7"/>
<text x="201.80" y="198.86" font-size="4.6" text-anchor="end" fill="#777" stroke="#777" stroke-width="0.1" font-weight="normal" >12</text>
<line x1="204.0" y1="185.82" x2="205.6" y2="185.82" stroke="#555" stroke-width="0.7"/>
<line x1="334.4" y1="185.82" x2="332.79999999999995" y2="185.82" stroke="#555" stroke-width="0.7"/>
<text x="201.80" y="187.42" font-size="4.6" text-anchor="end" fill="#777" stroke="#777" stroke-width="0.1" font-weight="normal" >14</text>
<line x1="204.0" y1="174.38" x2="205.6" y2="174.38" stroke="#555" stroke-width="0.7"/>
<line x1="334.4" y1="174.38" x2="332.79999999999995" y2="174.38" stroke="#555" stroke-width="0.7"/>
<text x="201.80" y="175.98" font-size="4.6" text-anchor="end" fill="#777" stroke="#777" stroke-width="0.1" font-weight="normal" >16</text>
<line x1="204.0" y1="162.94" x2="205.6" y2="162.94" stroke="#555" stroke-width="0.7"/>
<line x1="334.4" y1="162.94" x2="332.79999999999995" y2="162.94" stroke="#555" stroke-width="0.7"/>
<text x="201.80" y="164.54" font-size="4.6" text-anchor="end" fill="#777" stroke="#777" stroke-width="0.1" font-weight="normal" >18</text>
<line x1="204.0" y1="151.50" x2="205.6" y2="151.50" stroke="#555" stroke-width="0.7"/>
<line x1="334.4" y1="151.50" x2="332.79999999999995" y2="151.50" stroke="#555" stroke-width="0.7"/>
<text x="201.80" y="153.10" font-size="4.6" text-anchor="end" fill="#777" stroke="#777" stroke-width="0.1" font-weight="normal" >20</text>
<text x="193.30" y="186.20" font-size="7.9" text-anchor="middle" fill="#222" stroke="#222" stroke-width="0.15" transform="rotate(-90 193.30 186.20)">pAkt (AU)</text>
<text x="187.30" y="244.30" font-size="7.6" text-anchor="start" fill="#222" stroke="#222" stroke-width="0.16" font-weight="normal" >pY1054-VEGFR-2 (10<tspan font-size="4.0" dy="-3" fill="#666" stroke="none">5</tspan><tspan dy="3"> surface receptors/cell)</tspan></text>
<rect x="204.5" y="263.4" width="129.7" height="73.90000000000003" fill="none" stroke="#666" stroke-width="0.9"/>
<line x1="204.50" y1="337.3" x2="204.50" y2="335.7" stroke="#555" stroke-width="0.7"/>
<line x1="204.50" y1="263.4" x2="204.50" y2="265.0" stroke="#555" stroke-width="0.7"/>
<text x="204.50" y="344.20" font-size="4.6" text-anchor="middle" fill="#777" stroke="#777" stroke-width="0.1" font-weight="normal" >0</text>
<line x1="230.38" y1="337.3" x2="230.38" y2="335.7" stroke="#555" stroke-width="0.7"/>
<line x1="230.38" y1="263.4" x2="230.38" y2="265.0" stroke="#555" stroke-width="0.7"/>
<text x="230.38" y="344.20" font-size="4.6" text-anchor="middle" fill="#777" stroke="#777" stroke-width="0.1" font-weight="normal" >0.25</text>
<line x1="256.25" y1="337.3" x2="256.25" y2="335.7" stroke="#555" stroke-width="0.7"/>
<line x1="256.25" y1="263.4" x2="256.25" y2="265.0" stroke="#555" stroke-width="0.7"/>
<text x="256.25" y="344.20" font-size="4.6" text-anchor="middle" fill="#777" stroke="#777" stroke-width="0.1" font-weight="normal" >0.5</text>
<line x1="282.12" y1="337.3" x2="282.12" y2="335.7" stroke="#555" stroke-width="0.7"/>
<line x1="282.12" y1="263.4" x2="282.12" y2="265.0" stroke="#555" stroke-width="0.7"/>
<text x="282.12" y="344.20" font-size="4.6" text-anchor="middle" fill="#777" stroke="#777" stroke-width="0.1" font-weight="normal" >0.75</text>
<line x1="308.00" y1="337.3" x2="308.00" y2="335.7" stroke="#555" stroke-width="0.7"/>
<line x1="308.00" y1="263.4" x2="308.00" y2="265.0" stroke="#555" stroke-width="0.7"/>
<text x="308.00" y="344.20" font-size="4.6" text-anchor="middle" fill="#777" stroke="#777" stroke-width="0.1" font-weight="normal" >1</text>
<line x1="333.88" y1="337.3" x2="333.88" y2="335.7" stroke="#555" stroke-width="0.7"/>
<line x1="333.88" y1="263.4" x2="333.88" y2="265.0" stroke="#555" stroke-width="0.7"/>
<text x="333.88" y="344.20" font-size="4.6" text-anchor="middle" fill="#777" stroke="#777" stroke-width="0.1" font-weight="normal" >1.25</text>
<line x1="204.5" y1="331.80" x2="206.1" y2="331.80" stroke="#555" stroke-width="0.7"/>
<line x1="334.2" y1="331.80" x2="332.59999999999997" y2="331.80" stroke="#555" stroke-width="0.7"/>
<text x="202.30" y="333.40" font-size="4.6" text-anchor="end" fill="#777" stroke="#777" stroke-width="0.1" font-weight="normal" >8</text>
<line x1="204.5" y1="320.40" x2="206.1" y2="320.40" stroke="#555" stroke-width="0.7"/>
<line x1="334.2" y1="320.40" x2="332.59999999999997" y2="320.40" stroke="#555" stroke-width="0.7"/>
<text x="202.30" y="322.00" font-size="4.6" text-anchor="end" fill="#777" stroke="#777" stroke-width="0.1" font-weight="normal" >10</text>
<line x1="204.5" y1="309.00" x2="206.1" y2="309.00" stroke="#555" stroke-width="0.7"/>
<line x1="334.2" y1="309.00" x2="332.59999999999997" y2="309.00" stroke="#555" stroke-width="0.7"/>
<text x="202.30" y="310.60" font-size="4.6" text-anchor="end" fill="#777" stroke="#777" stroke-width="0.1" font-weight="normal" >12</text>
<line x1="204.5" y1="297.60" x2="206.1" y2="297.60" stroke="#555" stroke-width="0.7"/>
<line x1="334.2" y1="297.60" x2="332.59999999999997" y2="297.60" stroke="#555" stroke-width="0.7"/>
<text x="202.30" y="299.20" font-size="4.6" text-anchor="end" fill="#777" stroke="#777" stroke-width="0.1" font-weight="normal" >14</text>
<line x1="204.5" y1="286.20" x2="206.1" y2="286.20" stroke="#555" stroke-width="0.7"/>
<line x1="334.2" y1="286.20" x2="332.59999999999997" y2="286.20" stroke="#555" stroke-width="0.7"/>
<text x="202.30" y="287.80" font-size="4.6" text-anchor="end" fill="#777" stroke="#777" stroke-width="0.1" font-weight="normal" >16</text>
<line x1="204.5" y1="274.80" x2="206.1" y2="274.80" stroke="#555" stroke-width="0.7"/>
<line x1="334.2" y1="274.80" x2="332.59999999999997" y2="274.80" stroke="#555" stroke-width="0.7"/>
<text x="202.30" y="276.40" font-size="4.6" text-anchor="end" fill="#777" stroke="#777" stroke-width="0.1" font-weight="normal" >18</text>
<line x1="204.5" y1="263.40" x2="206.1" y2="263.40" stroke="#555" stroke-width="0.7"/>
<line x1="334.2" y1="263.40" x2="332.59999999999997" y2="263.40" stroke="#555" stroke-width="0.7"/>
<text x="202.30" y="265.00" font-size="4.6" text-anchor="end" fill="#777" stroke="#777" stroke-width="0.1" font-weight="normal" >20</text>
<text x="193.30" y="299.30" font-size="7.9" text-anchor="middle" fill="#222" stroke="#222" stroke-width="0.15" transform="rotate(-90 193.30 299.30)">pAkt (AU)</text>
<text x="270.70" y="353.90" font-size="7.7" text-anchor="middle" fill="#222" stroke="#222" stroke-width="0.16" font-weight="normal" >VEGF (nM)</text>
<rect x="383.9" y="151.5" width="129.60000000000002" height="74.30000000000001" fill="none" stroke="#666" stroke-width="0.9"/>
<line x1="384.40" y1="225.8" x2="384.40" y2="224.20000000000002" stroke="#555" stroke-width="0.7"/>
<line x1="384.40" y1="151.5" x2="384.40" y2="153.1" stroke="#555" stroke-width="0.7"/>
<text x="384.40" y="232.70" font-size="4.6" text-anchor="middle" fill="#777" stroke="#777" stroke-width="0.1" font-weight="normal" >0</text>
<line x1="427.27" y1="225.8" x2="427.27" y2="224.20000000000002" stroke="#555" stroke-width="0.7"/>
<line x1="427.27" y1="151.5" x2="427.27" y2="153.1" stroke="#555" stroke-width="0.7"/>
<text x="427.27" y="232.70" font-size="4.6" text-anchor="middle" fill="#777" stroke="#777" stroke-width="0.1" font-weight="normal" >0.25</text>
<line x1="470.15" y1="225.8" x2="470.15" y2="224.20000000000002" stroke="#555" stroke-width="0.7"/>
<line x1="470.15" y1="151.5" x2="470.15" y2="153.1" stroke="#555" stroke-width="0.7"/>
<text x="470.15" y="232.70" font-size="4.6" text-anchor="middle" fill="#777" stroke="#777" stroke-width="0.1" font-weight="normal" >0.5</text>
<line x1="513.02" y1="225.8" x2="513.02" y2="224.20000000000002" stroke="#555" stroke-width="0.7"/>
<line x1="513.02" y1="151.5" x2="513.02" y2="153.1" stroke="#555" stroke-width="0.7"/>
<text x="513.02" y="232.70" font-size="4.6" text-anchor="middle" fill="#777" stroke="#777" stroke-width="0.1" font-weight="normal" >0.75</text>
<line x1="383.9" y1="225.80" x2="385.5" y2="225.80" stroke="#555" stroke-width="0.7"/>
<line x1="513.5" y1="225.80" x2="511.9" y2="225.80" stroke="#555" stroke-width="0.7"/>
<text x="381.70" y="227.40" font-size="4.6" text-anchor="end" fill="#777" stroke="#777" stroke-width="0.1" font-weight="normal" >0</text>
<line x1="383.9" y1="207.23" x2="385.5" y2="207.23" stroke="#555" stroke-width="0.7"/>
<line x1="513.5" y1="207.23" x2="511.9" y2="207.23" stroke="#555" stroke-width="0.7"/>
<text x="381.70" y="208.83" font-size="4.6" text-anchor="end" fill="#777" stroke="#777" stroke-width="0.1" font-weight="normal" >0.5</text>
<line x1="383.9" y1="188.65" x2="385.5" y2="188.65" stroke="#555" stroke-width="0.7"/>
<line x1="513.5" y1="188.65" x2="511.9" y2="188.65" stroke="#555" stroke-width="0.7"/>
<text x="381.70" y="190.25" font-size="4.6" text-anchor="end" fill="#777" stroke="#777" stroke-width="0.1" font-weight="normal" >1</text>
<line x1="383.9" y1="170.08" x2="385.5" y2="170.08" stroke="#555" stroke-width="0.7"/>
<line x1="513.5" y1="170.08" x2="511.9" y2="170.08" stroke="#555" stroke-width="0.7"/>
<text x="381.70" y="171.68" font-size="4.6" text-anchor="end" fill="#777" stroke="#777" stroke-width="0.1" font-weight="normal" >1.5</text>
<line x1="383.9" y1="151.50" x2="385.5" y2="151.50" stroke="#555" stroke-width="0.7"/>
<line x1="513.5" y1="151.50" x2="511.9" y2="151.50" stroke="#555" stroke-width="0.7"/>
<text x="381.70" y="153.10" font-size="4.6" text-anchor="end" fill="#777" stroke="#777" stroke-width="0.1" font-weight="normal" >2</text>
<text x="371.70" y="187.40" font-size="7.9" text-anchor="middle" fill="#222" stroke="#222" stroke-width="0.15" transform="rotate(-90 371.70 187.40)">pAkt (AU)</text>
<text x="365.80" y="244.30" font-size="7.6" text-anchor="start" fill="#222" stroke="#222" stroke-width="0.16" font-weight="normal" >pY1054-VEGFR-2 (10<tspan font-size="4.0" dy="-3" fill="#666" stroke="none">5</tspan><tspan dy="3"> surface receptors/cell)</tspan></text>
<rect x="384.4" y="263.4" width="128.0" height="73.80000000000001" fill="none" stroke="#666" stroke-width="0.9"/>
<line x1="385.10" y1="337.2" x2="385.10" y2="335.59999999999997" stroke="#555" stroke-width="0.7"/>
<line x1="385.10" y1="263.4" x2="385.10" y2="265.0" stroke="#555" stroke-width="0.7"/>
<text x="385.10" y="344.10" font-size="4.6" text-anchor="middle" fill="#777" stroke="#777" stroke-width="0.1" font-weight="normal" >0</text>
<line x1="410.18" y1="337.2" x2="410.18" y2="335.59999999999997" stroke="#555" stroke-width="0.7"/>
<line x1="410.18" y1="263.4" x2="410.18" y2="265.0" stroke="#555" stroke-width="0.7"/>
<text x="410.18" y="344.10" font-size="4.6" text-anchor="middle" fill="#777" stroke="#777" stroke-width="0.1" font-weight="normal" >0.25</text>
<line x1="435.25" y1="337.2" x2="435.25" y2="335.59999999999997" stroke="#555" stroke-width="0.7"/>
<line x1="435.25" y1="263.4" x2="435.25" y2="265.0" stroke="#555" stroke-width="0.7"/>
<text x="435.25" y="344.10" font-size="4.6" text-anchor="middle" fill="#777" stroke="#777" stroke-width="0.1" font-weight="normal" >0.5</text>
<line x1="460.33" y1="337.2" x2="460.33" y2="335.59999999999997" stroke="#555" stroke-width="0.7"/>
<line x1="460.33" y1="263.4" x2="460.33" y2="265.0" stroke="#555" stroke-width="0.7"/>
<text x="460.33" y="344.10" font-size="4.6" text-anchor="middle" fill="#777" stroke="#777" stroke-width="0.1" font-weight="normal" >0.75</text>
<line x1="485.40" y1="337.2" x2="485.40" y2="335.59999999999997" stroke="#555" stroke-width="0.7"/>
<line x1="485.40" y1="263.4" x2="485.40" y2="265.0" stroke="#555" stroke-width="0.7"/>
<text x="485.40" y="344.10" font-size="4.6" text-anchor="middle" fill="#777" stroke="#777" stroke-width="0.1" font-weight="normal" >1</text>
<line x1="510.48" y1="337.2" x2="510.48" y2="335.59999999999997" stroke="#555" stroke-width="0.7"/>
<line x1="510.48" y1="263.4" x2="510.48" y2="265.0" stroke="#555" stroke-width="0.7"/>
<text x="510.48" y="344.10" font-size="4.6" text-anchor="middle" fill="#777" stroke="#777" stroke-width="0.1" font-weight="normal" >1.25</text>
<line x1="384.4" y1="337.20" x2="386.0" y2="337.20" stroke="#555" stroke-width="0.7"/>
<line x1="512.4" y1="337.20" x2="510.79999999999995" y2="337.20" stroke="#555" stroke-width="0.7"/>
<text x="382.20" y="338.80" font-size="4.6" text-anchor="end" fill="#777" stroke="#777" stroke-width="0.1" font-weight="normal" >0</text>
<line x1="384.4" y1="322.44" x2="386.0" y2="322.44" stroke="#555" stroke-width="0.7"/>
<line x1="512.4" y1="322.44" x2="510.79999999999995" y2="322.44" stroke="#555" stroke-width="0.7"/>
<text x="382.20" y="324.04" font-size="4.6" text-anchor="end" fill="#777" stroke="#777" stroke-width="0.1" font-weight="normal" >0.5</text>
<line x1="384.4" y1="307.68" x2="386.0" y2="307.68" stroke="#555" stroke-width="0.7"/>
<line x1="512.4" y1="307.68" x2="510.79999999999995" y2="307.68" stroke="#555" stroke-width="0.7"/>
<text x="382.20" y="309.28" font-size="4.6" text-anchor="end" fill="#777" stroke="#777" stroke-width="0.1" font-weight="normal" >1</text>
<line x1="384.4" y1="292.92" x2="386.0" y2="292.92" stroke="#555" stroke-width="0.7"/>
<line x1="512.4" y1="292.92" x2="510.79999999999995" y2="292.92" stroke="#555" stroke-width="0.7"/>
<text x="382.20" y="294.52" font-size="4.6" text-anchor="end" fill="#777" stroke="#777" stroke-width="0.1" font-weight="normal" >1.5</text>
<line x1="384.4" y1="278.16" x2="386.0" y2="278.16" stroke="#555" stroke-width="0.7"/>
<line x1="512.4" y1="278.16" x2="510.79999999999995" y2="278.16" stroke="#555" stroke-width="0.7"/>
<text x="382.20" y="279.76" font-size="4.6" text-anchor="end" fill="#777" stroke="#777" stroke-width="0.1" font-weight="normal" >2</text>
<line x1="384.4" y1="263.40" x2="386.0" y2="263.40" stroke="#555" stroke-width="0.7"/>
<line x1="512.4" y1="263.40" x2="510.79999999999995" y2="263.40" stroke="#555" stroke-width="0.7"/>
<text x="382.20" y="265.00" font-size="4.6" text-anchor="end" fill="#777" stroke="#777" stroke-width="0.1" font-weight="normal" >2.5</text>
<text x="372.00" y="299.50" font-size="7.9" text-anchor="middle" fill="#222" stroke="#222" stroke-width="0.15" transform="rotate(-90 372.00 299.50)">pAkt (AU)</text>
<text x="450.00" y="353.90" font-size="7.7" text-anchor="middle" fill="#222" stroke="#222" stroke-width="0.16" font-weight="normal" >VEGF (nM)</text>
<line x1="27.80" y1="217.40" x2="38.00" y2="217.40" stroke="#666" stroke-width="0.9"/>
<line x1="33.00" y1="213.00" x2="33.00" y2="221.00" stroke="#666" stroke-width="0.9"/>
<rect x="31.90" y="216.30" width="2.2" height="2.2" fill="none" stroke="#666" stroke-width="0.8"/>
<line x1="31.70" y1="213.00" x2="42.50" y2="213.00" stroke="#666" stroke-width="0.9"/>
<line x1="37.90" y1="200.50" x2="37.90" y2="225.50" stroke="#666" stroke-width="0.9"/>
<rect x="36.80" y="211.90" width="2.2" height="2.2" fill="none" stroke="#666" stroke-width="0.8"/>
<line x1="36.00" y1="209.00" x2="46.00" y2="209.00" stroke="#666" stroke-width="0.9"/>
<line x1="41.10" y1="198.50" x2="41.10" y2="218.80" stroke="#666" stroke-width="0.9"/>
<rect x="40.00" y="207.90" width="2.2" height="2.2" fill="none" stroke="#666" stroke-width="0.8"/>
<line x1="43.70" y1="202.90" x2="63.70" y2="202.90" stroke="#666" stroke-width="0.9"/>
<line x1="53.20" y1="191.60" x2="53.20" y2="215.20" stroke="#666" stroke-width="0.9"/>
<rect x="52.10" y="201.80" width="2.2" height="2.2" fill="none" stroke="#666" stroke-width="0.8"/>
<circle cx="53.2" cy="202.9" r="1.8" fill="#777"/>
<line x1="89.00" y1="173.40" x2="97.00" y2="173.40" stroke="#666" stroke-width="0.9"/>
<line x1="92.80" y1="171.00" x2="92.80" y2="176.00" stroke="#666" stroke-width="0.9"/>
<rect x="91.70" y="172.30" width="2.2" height="2.2" fill="none" stroke="#666" stroke-width="0.8"/>
<line x1="88.30" y1="159.00" x2="131.00" y2="159.00" stroke="#666" stroke-width="0.9"/>
<line x1="109.50" y1="152.00" x2="109.50" y2="165.00" stroke="#666" stroke-width="0.9"/>
<rect x="108.40" y="157.90" width="2.2" height="2.2" fill="none" stroke="#666" stroke-width="0.8"/>
<circle cx="109.5" cy="159.0" r="1.6" fill="#777"/>
<line x1="113.00" y1="168.50" x2="121.00" y2="168.50" stroke="#666" stroke-width="0.9"/>
<line x1="117.30" y1="164.60" x2="117.30" y2="173.40" stroke="#666" stroke-width="0.9"/>
<rect x="116.20" y="167.40" width="2.2" height="2.2" fill="none" stroke="#666" stroke-width="0.8"/>
<line x1="132.00" y1="167.10" x2="140.00" y2="167.10" stroke="#666" stroke-width="0.9"/>
<line x1="136.00" y1="162.00" x2="136.00" y2="172.00" stroke="#666" stroke-width="0.9"/>
<rect x="134.90" y="166.00" width="2.2" height="2.2" fill="none" stroke="#666" stroke-width="0.8"/>
<path d="M24.60,226.10 C26.08,224.65 30.52,220.27 33.50,217.40 C36.48,214.53 39.50,211.70 42.50,208.90 C45.50,206.10 48.52,203.48 51.50,200.60 C54.48,197.72 57.42,194.33 60.40,191.60 C63.38,188.87 66.40,186.38 69.40,184.20 C72.40,182.02 75.40,180.15 78.40,178.50 C81.40,176.85 84.40,175.42 87.40,174.30 C90.40,173.18 92.47,172.73 96.40,171.80 C100.33,170.87 104.62,169.67 111.00,168.70 C117.38,167.73 127.03,166.68 134.70,166.00 C142.37,165.32 153.28,164.83 157.00,164.60" fill="none" stroke="#404040" stroke-width="2.6" stroke-linejoin="round" stroke-linecap="butt"/>
<line x1="49.50" y1="281.70" x2="54.00" y2="281.70" stroke="#666" stroke-width="0.9"/>
<line x1="51.80" y1="276.30" x2="51.80" y2="286.60" stroke="#666" stroke-width="0.9"/>
<rect x="50.70" y="280.60" width="2.2" height="2.2" fill="none" stroke="#666" stroke-width="0.8"/>
<line x1="29.50" y1="314.20" x2="33.50" y2="314.20" stroke="#666" stroke-width="0.9"/>
<line x1="31.40" y1="302.60" x2="31.40" y2="326.70" stroke="#666" stroke-width="0.9"/>
<rect x="30.30" y="313.10" width="2.2" height="2.2" fill="none" stroke="#666" stroke-width="0.8"/>
<line x1="25.00" y1="318.00" x2="28.00" y2="318.00" stroke="#666" stroke-width="0.9"/>
<line x1="26.50" y1="308.00" x2="26.50" y2="330.00" stroke="#666" stroke-width="0.9"/>
<rect x="25.40" y="316.90" width="2.2" height="2.2" fill="none" stroke="#666" stroke-width="0.8"/>
<line x1="24.50" y1="326.00" x2="27.00" y2="326.00" stroke="#666" stroke-width="0.9"/>
<line x1="25.60" y1="316.00" x2="25.60" y2="336.00" stroke="#666" stroke-width="0.9"/>
<rect x="24.50" y="324.90" width="2.2" height="2.2" fill="none" stroke="#666" stroke-width="0.8"/>
<line x1="101.50" y1="279.80" x2="105.50" y2="279.80" stroke="#666" stroke-width="0.9"/>
<line x1="103.50" y1="276.20" x2="103.50" y2="282.70" stroke="#666" stroke-width="0.9"/>
<rect x="102.40" y="278.70" width="2.2" height="2.2" fill="none" stroke="#666" stroke-width="0.8"/>
<line x1="155.9" y1="264" x2="155.9" y2="278" stroke="#777" stroke-width="1.6"/>
<line x1="156.00" y1="263.40" x2="156.00" y2="278.30" stroke="#666" stroke-width="0.9"/>
<rect x="154.90" y="269.70" width="2.2" height="2.2" fill="none" stroke="#666" stroke-width="0.8"/>
<rect x="26.3" y="316" width="2.6" height="18" fill="#999" filter="url(#bl)"/>
<path d="M24.90,337.00 C25.05,335.00 25.45,329.08 25.80,325.00 C26.15,320.92 26.53,316.33 27.00,312.50 C27.47,308.67 28.00,305.00 28.60,302.00 C29.20,299.00 29.80,296.62 30.60,294.50 C31.40,292.38 32.25,290.83 33.40,289.30 C34.55,287.77 35.72,286.38 37.50,285.30 C39.28,284.22 41.53,283.43 44.10,282.80 C46.67,282.17 48.58,281.92 52.90,281.50 C57.22,281.08 62.15,280.68 70.00,280.30 C77.85,279.92 90.00,279.48 100.00,279.20 C110.00,278.92 120.53,278.77 130.00,278.60 C139.47,278.43 152.33,278.27 156.80,278.20" fill="none" stroke="#404040" stroke-width="2.6" stroke-linejoin="round" stroke-linecap="butt"/>
<line x1="206.70" y1="181.60" x2="216.20" y2="181.60" stroke="#666" stroke-width="0.9"/>
<line x1="211.10" y1="169.20" x2="211.10" y2="193.40" stroke="#666" stroke-width="0.9"/>
<rect x="210.00" y="180.50" width="2.2" height="2.2" fill="none" stroke="#666" stroke-width="0.8"/>
<line x1="222.90" y1="181.00" x2="243.90" y2="181.00" stroke="#666" stroke-width="0.9"/>
<line x1="233.40" y1="175.60" x2="233.40" y2="186.70" stroke="#666" stroke-width="0.9"/>
<rect x="232.30" y="179.90" width="2.2" height="2.2" fill="none" stroke="#666" stroke-width="0.8"/>
<line x1="212.40" y1="200.60" x2="222.00" y2="200.60" stroke="#666" stroke-width="0.9"/>
<line x1="217.60" y1="191.50" x2="217.60" y2="210.60" stroke="#666" stroke-width="0.9"/>
<rect x="216.50" y="199.50" width="2.2" height="2.2" fill="none" stroke="#666" stroke-width="0.8"/>
<line x1="218.00" y1="194.40" x2="223.00" y2="194.40" stroke="#666" stroke-width="0.9"/>
<line x1="220.60" y1="182.90" x2="220.60" y2="205.80" stroke="#666" stroke-width="0.9"/>
<rect x="219.50" y="193.30" width="2.2" height="2.2" fill="none" stroke="#666" stroke-width="0.8"/>
<line x1="273.60" y1="171.00" x2="273.60" y2="202.50" stroke="#666" stroke-width="0.9"/>
<rect x="272.50" y="186.10" width="2.2" height="2.2" fill="none" stroke="#666" stroke-width="0.8"/>
<line x1="269.00" y1="177.00" x2="313.30" y2="177.00" stroke="#666" stroke-width="0.9"/>
<line x1="290.90" y1="154.70" x2="290.90" y2="199.30" stroke="#666" stroke-width="0.9"/>
<rect x="289.80" y="175.90" width="2.2" height="2.2" fill="none" stroke="#666" stroke-width="0.8"/>
<line x1="299.10" y1="181.80" x2="299.10" y2="193.40" stroke="#666" stroke-width="0.9"/>
<rect x="298.00" y="186.10" width="2.2" height="2.2" fill="none" stroke="#666" stroke-width="0.8"/>
<line x1="318.20" y1="169.90" x2="318.20" y2="207.80" stroke="#666" stroke-width="0.9"/>
<rect x="317.10" y="187.60" width="2.2" height="2.2" fill="none" stroke="#666" stroke-width="0.8"/>
<path d="M205.3,226.3 L205.3,187.1 L334.5,187.1" fill="none" stroke="#404040" stroke-width="2.3" stroke-linejoin="miter"/>
<line x1="204.80" y1="281.30" x2="204.80" y2="336.00" stroke="#666" stroke-width="0.9"/>
<rect x="203.70" y="291.60" width="2.2" height="2.2" fill="none" stroke="#666" stroke-width="0.8"/>
<line x1="208.30" y1="290.00" x2="208.30" y2="300.00" stroke="#666" stroke-width="0.9"/>
<rect x="207.20" y="293.80" width="2.2" height="2.2" fill="none" stroke="#666" stroke-width="0.8"/>
<line x1="211.40" y1="287.20" x2="211.40" y2="297.10" stroke="#666" stroke-width="0.9"/>
<rect x="210.30" y="289.90" width="2.2" height="2.2" fill="none" stroke="#666" stroke-width="0.8"/>
<line x1="217.80" y1="282.80" x2="217.80" y2="314.20" stroke="#888" stroke-width="0.9"/>
<line x1="230.70" y1="293.80" x2="230.70" y2="305.40" stroke="#666" stroke-width="0.9"/>
<rect x="229.60" y="299.30" width="2.2" height="2.2" fill="none" stroke="#666" stroke-width="0.8"/>
<line x1="281.80" y1="281.30" x2="281.80" y2="319.00" stroke="#666" stroke-width="0.9"/>
<rect x="280.70" y="297.90" width="2.2" height="2.2" fill="none" stroke="#666" stroke-width="0.8"/>
<line x1="333.8" y1="266" x2="333.8" y2="310" stroke="#999" stroke-width="1.5"/>
<line x1="333.80" y1="266.00" x2="333.80" y2="310.00" stroke="#777" stroke-width="0.9"/>
<rect x="332.70" y="286.90" width="2.2" height="2.2" fill="none" stroke="#777" stroke-width="0.8"/>
<rect x="206.2" y="299" width="3.6" height="24" fill="#8a8a8a" filter="url(#bl)"/>
<line x1="207.50" y1="299.00" x2="207.50" y2="318.00" stroke="#666" stroke-width="0.9"/>
<rect x="206.40" y="303.90" width="2.2" height="2.2" fill="none" stroke="#666" stroke-width="0.8"/>
<line x1="208.20" y1="300.00" x2="208.20" y2="322.00" stroke="#666" stroke-width="0.9"/>
<rect x="207.10" y="310.90" width="2.2" height="2.2" fill="none" stroke="#666" stroke-width="0.8"/>
<path d="M205.3,337.2 L205.3,298.2 L334.2,298.2" fill="none" stroke="#404040" stroke-width="2.3" stroke-linejoin="miter"/>
<line x1="409.60" y1="170.80" x2="439.20" y2="170.80" stroke="#666" stroke-width="0.9"/>
<line x1="426.00" y1="165.40" x2="426.00" y2="176.80" stroke="#666" stroke-width="0.9"/>
<rect x="424.90" y="169.70" width="2.2" height="2.2" fill="none" stroke="#666" stroke-width="0.8"/>
<line x1="441.80" y1="169.00" x2="462.40" y2="169.00" stroke="#666" stroke-width="0.9"/>
<line x1="453.60" y1="162.60" x2="453.60" y2="173.40" stroke="#666" stroke-width="0.9"/>
<rect x="452.50" y="167.90" width="2.2" height="2.2" fill="none" stroke="#666" stroke-width="0.8"/>
<line x1="440.00" y1="169.50" x2="510.20" y2="169.50" stroke="#666" stroke-width="0.9"/>
<line x1="474.80" y1="152.00" x2="474.80" y2="187.20" stroke="#666" stroke-width="0.9"/>
<rect x="473.70" y="168.40" width="2.2" height="2.2" fill="none" stroke="#666" stroke-width="0.8"/>
<line x1="458.50" y1="160.20" x2="504.60" y2="160.20" stroke="#666" stroke-width="0.9"/>
<line x1="481.50" y1="152.00" x2="481.50" y2="169.50" stroke="#666" stroke-width="0.9"/>
<rect x="480.40" y="159.10" width="2.2" height="2.2" fill="none" stroke="#666" stroke-width="0.8"/>
<line x1="409.60" y1="200.00" x2="441.40" y2="200.00" stroke="#666" stroke-width="0.9"/>
<line x1="425.60" y1="192.80" x2="425.60" y2="208.80" stroke="#666" stroke-width="0.9"/>
<rect x="424.50" y="198.90" width="2.2" height="2.2" fill="none" stroke="#666" stroke-width="0.8"/>
<line x1="395.40" y1="202.20" x2="410.70" y2="202.20" stroke="#666" stroke-width="0.9"/>
<line x1="403.00" y1="191.20" x2="403.00" y2="215.80" stroke="#666" stroke-width="0.9"/>
<rect x="401.90" y="201.10" width="2.2" height="2.2" fill="none" stroke="#666" stroke-width="0.8"/>
<line x1="401.00" y1="207.50" x2="408.00" y2="207.50" stroke="#666" stroke-width="0.9"/>
<line x1="404.60" y1="200.00" x2="404.60" y2="219.00" stroke="#666" stroke-width="0.9"/>
<rect x="403.50" y="206.40" width="2.2" height="2.2" fill="none" stroke="#666" stroke-width="0.8"/>
<line x1="397.00" y1="211.00" x2="402.50" y2="211.00" stroke="#666" stroke-width="0.9"/>
<line x1="399.70" y1="205.90" x2="399.70" y2="222.40" stroke="#666" stroke-width="0.9"/>
<rect x="398.60" y="209.90" width="2.2" height="2.2" fill="none" stroke="#666" stroke-width="0.8"/>
<path d="M384.40,225.80 C384.94,225.00 386.56,222.51 387.64,220.97 C388.72,219.43 389.80,217.96 390.88,216.54 C391.96,215.12 393.04,213.77 394.12,212.46 C395.20,211.15 396.28,209.90 397.36,208.69 C398.44,207.48 399.52,206.32 400.60,205.20 C401.68,204.08 402.76,203.00 403.84,201.96 C404.92,200.91 406.00,199.91 407.08,198.93 C408.16,197.96 409.24,197.02 410.32,196.11 C411.40,195.20 412.48,194.32 413.56,193.47 C414.64,192.62 415.72,191.79 416.80,190.99 C417.88,190.19 418.96,189.42 420.04,188.66 C421.12,187.91 422.20,187.18 423.28,186.47 C424.36,185.76 425.44,185.07 426.52,184.40 C427.60,183.73 428.68,183.08 429.76,182.45 C430.84,181.81 431.92,181.20 433.00,180.60 C434.08,180.00 435.16,179.42 436.24,178.85 C437.32,178.28 438.40,177.72 439.48,177.18 C440.56,176.64 441.64,176.12 442.72,175.60 C443.80,175.09 444.88,174.59 445.96,174.10 C447.04,173.61 448.12,173.13 449.20,172.67 C450.28,172.20 451.36,171.75 452.44,171.30 C453.52,170.86 454.60,170.42 455.68,170.00 C456.76,169.57 457.84,169.16 458.92,168.75 C460.00,168.34 461.08,167.95 462.16,167.56 C463.24,167.17 464.32,166.79 465.40,166.41 C466.48,166.04 467.56,165.68 468.64,165.32 C469.72,164.96 470.80,164.61 471.88,164.27 C472.96,163.93 474.04,163.59 475.12,163.26 C476.20,162.93 477.28,162.61 478.36,162.29 C479.44,161.97 480.52,161.66 481.60,161.36 C482.68,161.05 483.76,160.76 484.84,160.46 C485.92,160.17 487.00,159.88 488.08,159.60 C489.16,159.32 490.24,159.04 491.32,158.77 C492.40,158.49 493.48,158.23 494.56,157.96 C495.64,157.70 496.72,157.44 497.80,157.19 C498.88,156.93 499.96,156.68 501.04,156.44 C502.12,156.19 503.20,155.95 504.28,155.72 C505.36,155.48 506.44,155.25 507.52,155.02 C508.60,154.79 509.68,154.56 510.76,154.34 C511.84,154.12 513.46,153.80 514.00,153.69" fill="none" stroke="#404040" stroke-width="2.6" stroke-linejoin="round" stroke-linecap="butt"/>
<rect x="386.2" y="308" width="2.8" height="22" fill="#999" filter="url(#bl)"/>
<line x1="398.00" y1="291.60" x2="398.00" y2="297.10" stroke="#666" stroke-width="0.9"/>
<rect x="396.90" y="293.40" width="2.2" height="2.2" fill="none" stroke="#666" stroke-width="0.8"/>
<line x1="410.30" y1="287.20" x2="410.30" y2="295.30" stroke="#666" stroke-width="0.9"/>
<rect x="409.20" y="289.40" width="2.2" height="2.2" fill="none" stroke="#666" stroke-width="0.8"/>
<line x1="391.40" y1="309.80" x2="391.40" y2="324.50" stroke="#666" stroke-width="0.9"/>
<rect x="390.30" y="315.30" width="2.2" height="2.2" fill="none" stroke="#666" stroke-width="0.8"/>
<line x1="386.50" y1="309.00" x2="386.50" y2="330.00" stroke="#666" stroke-width="0.9"/>
<rect x="385.40" y="316.90" width="2.2" height="2.2" fill="none" stroke="#666" stroke-width="0.8"/>
<line x1="385.50" y1="318.00" x2="385.50" y2="336.00" stroke="#666" stroke-width="0.9"/>
<rect x="384.40" y="324.90" width="2.2" height="2.2" fill="none" stroke="#666" stroke-width="0.8"/>
<line x1="459.80" y1="278.30" x2="459.80" y2="291.00" stroke="#666" stroke-width="0.9"/>
<rect x="458.70" y="283.90" width="2.2" height="2.2" fill="none" stroke="#666" stroke-width="0.8"/>
<line x1="511.00" y1="277.00" x2="511.00" y2="308.50" stroke="#666" stroke-width="0.9"/>
<rect x="509.90" y="291.20" width="2.2" height="2.2" fill="none" stroke="#666" stroke-width="0.8"/>
<path d="M384.40,337.20 C384.77,333.80 385.68,322.38 386.60,316.80 C387.52,311.22 388.43,307.72 389.90,303.70 C391.37,299.68 393.40,295.55 395.40,292.70 C397.40,289.85 398.98,288.50 401.90,286.60 C404.82,284.70 408.22,282.77 412.90,281.30 C417.58,279.83 422.15,278.63 430.00,277.80 C437.85,276.97 450.00,276.60 460.00,276.30 C470.00,276.00 482.33,276.02 490.00,276.00 C497.67,275.98 502.50,276.10 506.00,276.20 C509.50,276.30 510.17,276.53 511.00,276.60" fill="none" stroke="#404040" stroke-width="2.6" stroke-linejoin="round" stroke-linecap="butt"/>
<line x1="511.2" y1="276" x2="511.2" y2="308.5" stroke="#555" stroke-width="1.1"/>
<text x="137.30" y="217.10" font-size="4.4" text-anchor="end" fill="#555" stroke="#555" stroke-width="0.1" font-weight="normal" >LC + Na<tspan font-size="3" dy="1">3</tspan><tspan dy="-1">VO</tspan><tspan font-size="3" dy="1">4</tspan><tspan dy="-1"> data</tspan></text>
<text x="137.30" y="222.10" font-size="4.4" text-anchor="end" fill="#555" stroke="#555" stroke-width="0.1" font-weight="normal" >model</text>
<line x1="139.20" y1="215.60" x2="151.10" y2="215.60" stroke="#555" stroke-width="0.9"/>
<rect x="144.05" y="214.50" width="2.2" height="2.2" fill="#999" stroke="#555" stroke-width="0.8"/>
<line x1="139.20" y1="220.60" x2="151.10" y2="220.60" stroke="#333" stroke-width="1.9"/>
<text x="137.30" y="328.30" font-size="4.4" text-anchor="end" fill="#555" stroke="#555" stroke-width="0.1" font-weight="normal" >LC + Na<tspan font-size="3" dy="1">3</tspan><tspan dy="-1">VO</tspan><tspan font-size="3" dy="1">4</tspan><tspan dy="-1"> data</tspan></text>
<text x="137.30" y="333.30" font-size="4.4" text-anchor="end" fill="#555" stroke="#555" stroke-width="0.1" font-weight="normal" >model</text>
<line x1="139.20" y1="326.80" x2="151.30" y2="326.80" stroke="#555" stroke-width="0.9"/>
<rect x="144.15" y="325.70" width="2.2" height="2.2" fill="#999" stroke="#555" stroke-width="0.8"/>
<line x1="139.20" y1="331.80" x2="151.30" y2="331.80" stroke="#333" stroke-width="1.9"/>
<text x="315.80" y="217.10" font-size="4.4" text-anchor="end" fill="#555" stroke="#555" stroke-width="0.1" font-weight="normal" >LC + Na<tspan font-size="3" dy="1">3</tspan><tspan dy="-1">VO</tspan><tspan font-size="3" dy="1">4</tspan><tspan dy="-1"> data</tspan></text>
<text x="315.80" y="222.10" font-size="4.4" text-anchor="end" fill="#555" stroke="#555" stroke-width="0.1" font-weight="normal" >model</text>
<line x1="318.20" y1="215.60" x2="330.00" y2="215.60" stroke="#555" stroke-width="0.9"/>
<rect x="323.00" y="214.50" width="2.2" height="2.2" fill="#999" stroke="#555" stroke-width="0.8"/>
<line x1="318.20" y1="220.60" x2="330.00" y2="220.60" stroke="#333" stroke-width="1.9"/>
<text x="315.60" y="328.00" font-size="4.4" text-anchor="end" fill="#555" stroke="#555" stroke-width="0.1" font-weight="normal" >LC + Na<tspan font-size="3" dy="1">3</tspan><tspan dy="-1">VO</tspan><tspan font-size="3" dy="1">4</tspan><tspan dy="-1"> data</tspan></text>
<text x="315.60" y="333.00" font-size="4.4" text-anchor="end" fill="#555" stroke="#555" stroke-width="0.1" font-weight="normal" >model</text>
<line x1="317.50" y1="326.50" x2="330.00" y2="326.50" stroke="#555" stroke-width="0.9"/>
<rect x="322.65" y="325.40" width="2.2" height="2.2" fill="#999" stroke="#555" stroke-width="0.8"/>
<line x1="317.50" y1="331.50" x2="330.00" y2="331.50" stroke="#333" stroke-width="1.9"/>
<text x="494.50" y="217.10" font-size="4.4" text-anchor="end" fill="#555" stroke="#555" stroke-width="0.1" font-weight="normal" >LC + Endothall data</text>
<text x="494.50" y="222.10" font-size="4.4" text-anchor="end" fill="#555" stroke="#555" stroke-width="0.1" font-weight="normal" >model</text>
<line x1="496.20" y1="215.60" x2="508.60" y2="215.60" stroke="#555" stroke-width="0.9"/>
<rect x="501.30" y="214.50" width="2.2" height="2.2" fill="#999" stroke="#555" stroke-width="0.8"/>
<line x1="496.20" y1="220.60" x2="508.60" y2="220.60" stroke="#333" stroke-width="1.9"/>
<text x="494.20" y="328.30" font-size="4.4" text-anchor="end" fill="#555" stroke="#555" stroke-width="0.1" font-weight="normal" >LC + Endothall data</text>
<text x="494.20" y="333.20" font-size="4.4" text-anchor="end" fill="#555" stroke="#555" stroke-width="0.1" font-weight="normal" >model</text>
<line x1="496.20" y1="326.80" x2="508.30" y2="326.80" stroke="#555" stroke-width="0.9"/>
<rect x="501.15" y="325.70" width="2.2" height="2.2" fill="#999" stroke="#555" stroke-width="0.8"/>
<line x1="496.20" y1="331.70" x2="508.30" y2="331.70" stroke="#333" stroke-width="1.9"/>
</g>
</svg>
</body></html>
